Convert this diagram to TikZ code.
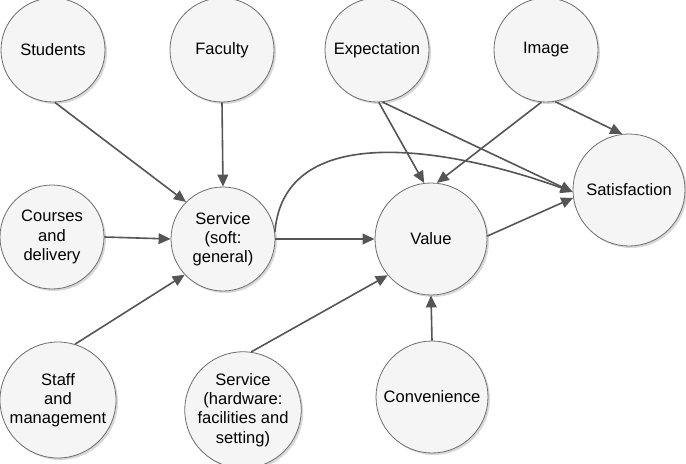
\documentclass[tikz,border=0pt]{standalone}
\usepackage{fontspec}
\setmainfont{Liberation Sans}
\usepackage{tikz}
\usetikzlibrary{arrows.meta, shadows}
\definecolor{nodefill}{RGB}{245,245,245}
\definecolor{rimgray}{RGB}{110,110,110}
\definecolor{edgegray}{RGB}{85,85,85}

\begin{document}
\begin{tikzpicture}[x=0.75pt,y=-0.75pt,
          factor/.style={circle,draw=rimgray,line width=0.6pt,fill=nodefill,
                      align=center,inner sep=0pt,minimum size=78pt,
                      font=\fontsize{12.4}{14.4}\selectfont,
                      drop shadow={shadow xshift=1.5pt,shadow yshift=-1.5pt,fill=black!30}},
          big/.style={factor,minimum size=84pt},
          link/.style={-{Triangle[length=9pt,width=8pt]},draw=edgegray,line width=1.2pt}]
        \useasboundingbox (0,0) rectangle (686,464);
        \node[factor](stu) at (53,50){Students};
        \node[factor](fac) at (222,50){Faculty};
        \node[factor](exp) at (377,50){Expectation};
        \node[factor](img) at (546,50){Image};
        \node[factor](cou) at (52,237){Courses\\and\\delivery};
        \node[factor](soft) at (223,239){Service\\(soft:\\general)};
        \node[big](val) at (431,239){Value};
        \node[big](sat) at (629,190){Satisfaction};
        \node[factor,minimum size=87pt](sta) at (58,400){Staff\\and\\management};
        \node[factor,minimum size=70.5pt](hard) at (243,410){Service\\(hardware:\\facilities and\\setting)};
        \node[big](con) at (432,397){Convenience};
        \draw[link](stu.-88)--(soft.135);
        \draw[link](fac.south)--(soft.north);
        \draw[link](cou.east)--(soft.west);
        \draw[link](sta.73)--(soft.223);
        \draw[link](soft.east)--(val.west);
        \draw[link](soft.8) to[out=85,in=160] (sat.182);
        \draw[link](exp.-88)--(val.97);
        \draw[link](exp.-84)--(sat.182);
        \draw[link](img.-95)--(val.84);
        \draw[link](img.-80)--(sat.97);
        \draw[link](val.3)--(sat.188);
        \draw[link](hard.82)--(val.220);
        \draw[link](con.north)--(val.south);
      \end{tikzpicture}
\end{document}
